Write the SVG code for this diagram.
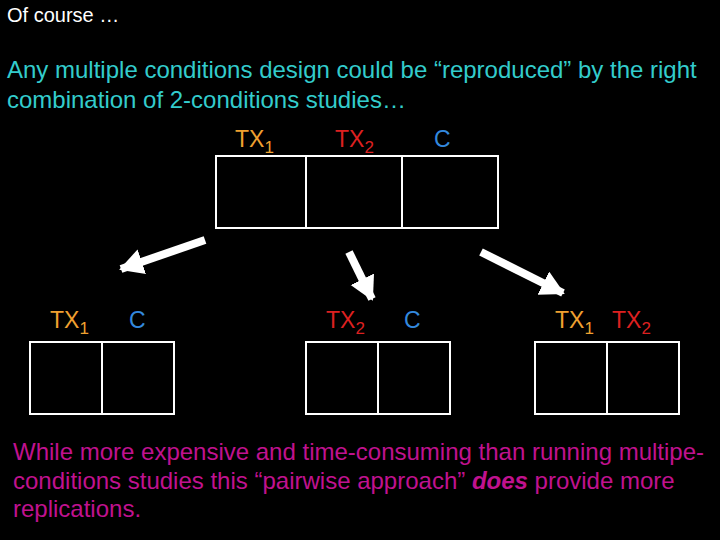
<svg xmlns="http://www.w3.org/2000/svg" width="720" height="540" viewBox="0 0 720 540">
<style>
text{font-family:"Liberation Sans",Arial,sans-serif}
.cy{fill:#33cccc;font-size:24px}
.mg{fill:#c0128f;font-size:24px}
.lb{font-size:23px}
.sub{font-size:17px}
.o{fill:#f0a030}.r{fill:#dd2020}.b{fill:#3388dd}
.box{fill:none;stroke:#fff;stroke-width:2}
.arr{stroke:#fff;stroke-width:8;fill:none;marker-end:url(#ah)}
</style>
<defs>
<marker id="ah" markerUnits="userSpaceOnUse" markerWidth="26" markerHeight="28" refX="22" refY="13" orient="auto">
<polygon points="0,0 24,13 0,26" fill="#fff"/>
</marker>
</defs>
<rect width="720" height="540" fill="#000"/>
<text x="7" y="22" fill="#fff" style="font-size:20px">Of course …</text>
<text class="cy" x="7" y="78">Any multiple conditions design could be “reproduced” by the right</text>
<text class="cy" x="7" y="108">combination of 2-conditions studies…</text>

<g id="top">
<text class="lb o" x="235" y="147">TX<tspan class="sub" dy="6">1</tspan></text>
<text class="lb r" x="335" y="147">TX<tspan class="sub" dy="6">2</tspan></text>
<text class="lb b" x="434" y="147">C</text>
<rect class="box" x="216" y="156" width="282" height="72"/>
<line class="box" x1="306" y1="156" x2="306" y2="228"/>
<line class="box" x1="402" y1="156" x2="402" y2="228"/>
</g>

<g id="pair1">
<text class="lb o" x="50" y="328">TX<tspan class="sub" dy="6">1</tspan></text>
<text class="lb b" x="129" y="328">C</text>
<rect class="box" x="30" y="342" width="144" height="72"/>
<line class="box" x1="102" y1="342" x2="102" y2="414"/>
</g>

<g id="pair2">
<text class="lb r" x="326" y="328">TX<tspan class="sub" dy="6">2</tspan></text>
<text class="lb b" x="404" y="328">C</text>
<rect class="box" x="306" y="342" width="144" height="72"/>
<line class="box" x1="378" y1="342" x2="378" y2="414"/>
</g>

<g id="pair3">
<text class="lb o" x="555" y="328">TX<tspan class="sub" dy="6">1</tspan></text>
<text class="lb r" x="612" y="328">TX<tspan class="sub" dy="6">2</tspan></text>
<rect class="box" x="535" y="342" width="144" height="72"/>
<line class="box" x1="607" y1="342" x2="607" y2="414"/>
</g>

<g id="connectors">
<line class="arr" x1="205" y1="240" x2="121" y2="269"/>
<line class="arr" x1="349" y1="252" x2="372" y2="299"/>
<line class="arr" x1="481" y1="252" x2="563" y2="293"/>
</g>

<text class="mg" x="13" y="460">While more expensive and time-consuming than running multipe-</text>
<text class="mg" x="13" y="489">conditions studies this “pairwise approach” <tspan font-weight="bold" font-style="italic">does</tspan> provide more</text>
<text class="mg" x="13" y="517">replications.</text>
</svg>
